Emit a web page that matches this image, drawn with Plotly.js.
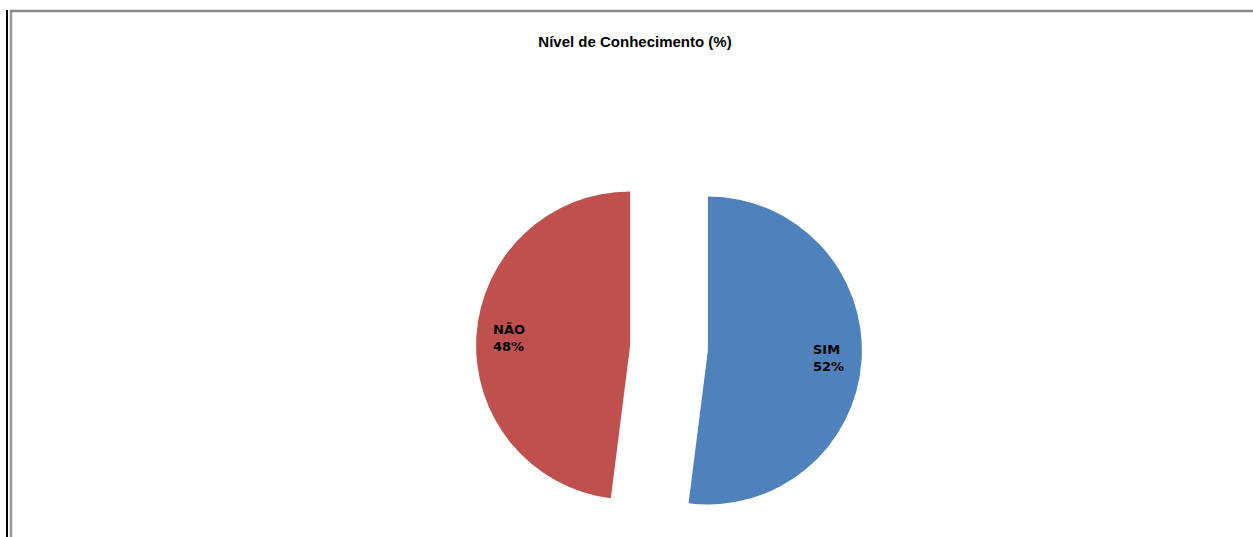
<!DOCTYPE html>
<html><head><meta charset="utf-8">
<script src="https://cdn.plot.ly/plotly-3.0.1.min.js"></script>
<style>html,body{margin:0;padding:0;overflow:hidden;background:#fff}#chart{width:1253px;height:545px}</style>
</head><body><div id="chart"></div>
<script>
const categories = ['SIM', 'NÃO'];
const values = [52, 48];
const sliceColors = ['#4F81BD', '#C0504D'];
const chartTitle = 'Nível de Conhecimento (%)';

// pie geometry (pixels)
const W = 1253, H = 545;
const CX = 669, CY = 348, R = 154, PULL = 0.253, LABEL_R = 0.785;

const trace = {
  type: 'pie',
  labels: categories,
  values: values,
  sort: false,
  direction: 'clockwise',
  rotation: 0,
  pull: values.map(() => PULL),
  marker: {colors: sliceColors, line: {width: 0}},
  textinfo: 'none',
  domain: {x: [(CX - R * (1 + PULL)) / W, (CX + R * (1 + PULL)) / W],
           y: [1 - (CY + R * (1 + PULL)) / H, 1 - (CY - R * (1 + PULL)) / H]},
  showlegend: false,
  hoverinfo: 'label+percent'
};

// data labels placed along each slice's mid-angle (derived from the values)
const total = values.reduce((a, b) => a + b, 0);
let cum = 0;
const annotations = categories.map((c, i) => {
  const mid = (cum + values[i] / 2) / total * 2 * Math.PI;
  cum += values[i];
  const dx = Math.sin(mid), dy = -Math.cos(mid);
  const px = CX + dx * R * (PULL + LABEL_R);
  const py = CY + dy * R * (PULL + LABEL_R);
  const pct = Math.round(values[i] / total * 100) + '%';
  return {x: px / W, y: 1 - py / H, xref: 'paper', yref: 'paper', showarrow: false,
          text: c + '<br>' + pct, align: 'left', xanchor: 'center', yanchor: 'middle',
          font: {family: 'DejaVu Sans', size: 13, color: '#000', weight: 'bold'}};
});

const layout = {
  width: W, height: H,
  margin: {l: 0, r: 0, t: 0, b: 0},
  paper_bgcolor: '#fff',
  title: {text: chartTitle, font: {family: 'Liberation Sans', size: 15, color: '#000', weight: 'bold'},
          x: 635 / W, xanchor: 'center', xref: 'paper', y: 1 - 42 / H, yanchor: 'middle', yref: 'paper'},
  annotations: annotations,
  shapes: [
    {type: 'line', xref: 'paper', yref: 'paper', x0: 7 / W, x1: 7 / W, y0: 0, y1: 1 - 10 / H, line: {color: '#000', width: 2}},
    {type: 'line', xref: 'paper', yref: 'paper', x0: 11 / W, x1: 11 / W, y0: 0, y1: 1 - 10 / H, line: {color: '#999', width: 2.5}},
    {type: 'line', xref: 'paper', yref: 'paper', x0: 10 / W, x1: 1, y0: 1 - 11 / H, y1: 1 - 11 / H, line: {color: '#888', width: 2.5}}
  ]
};
Plotly.newPlot('chart', [trace], layout, {displayModeBar: false, staticPlot: true});
</script></body></html>
